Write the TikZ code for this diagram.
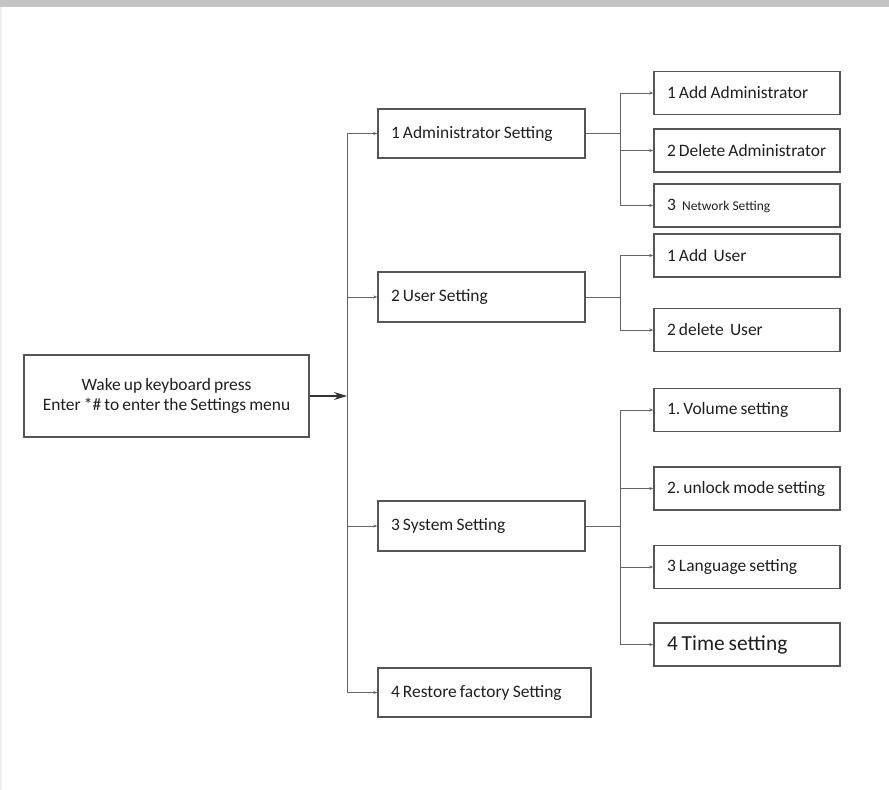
\documentclass[tikz,border=0pt]{standalone}
\usepackage{fontspec}
\setmainfont{Carlito}[WordSpace=0.8]
\usetikzlibrary{arrows.meta}
\definecolor{boxline}{HTML}{555555}
\definecolor{conn}{HTML}{646464}
\definecolor{band}{HTML}{C4C4C4}
\frenchspacing
\newcommand\oneline[1]{\mbox{\spaceskip=\fontdimen2\font\relax\xspaceskip=\fontdimen2\font\relax #1}}
\begin{document}
\begin{tikzpicture}[x=1bp,y=-1bp,
  box/.style={draw=boxline,line width=1.4bp,rectangle,inner sep=0pt,
    font=\fontsize{17.5}{20}\selectfont,text=black!88},
  lonebox/.style={box,minimum width=207bp,minimum height=49bp,text width=181bp,align=left},
  leafbox/.style={box,minimum width=186bp,minimum height=43bp,text width=160bp,align=left},
  link/.style={draw=conn,line width=0.9bp,-{Stealth[length=4bp,width=3bp]}},
  plain/.style={draw=conn,line width=0.9bp}]
\useasboundingbox (0,0) rectangle (889,790);
\fill[band] (0,0) rectangle (889,7);
\fill[black!6] (0,7) rectangle (2,790);
% main
\node[box,minimum width=285bp,minimum height=82bp,align=center] (main) at (166.5,396)
  {Wake up keyboard press\\Enter *\# to enter the Settings menu};
% level 1
\node[lonebox] (admin) at (481.5,133.5) {\oneline{1 Administrator Setting}};
\node[lonebox,minimum height=50bp] (user) at (481.5,297) {\oneline{2 User Setting}};
\node[lonebox,minimum height=50bp] (sys) at (481.5,526) {\oneline{3 System Setting}};
\node[lonebox,minimum width=213bp,text width=187bp] (rest) at (484.5,692.5) {\oneline{4 Restore factory Setting}};
% level 2
\node[leafbox] (addadm) at (747,93) {\oneline{1 Add Administrator}};
\node[leafbox] (deladm) at (747,150.5) {\oneline{2 Delete Administrator}};
\node[leafbox] (net) at (747,205.5) {\oneline{3 \ {\fontsize{13.5}{16}\selectfont Network Setting}}};
\node[leafbox] (adduser) at (747,255.5) {\oneline{1 Add\ \ User}};
\node[leafbox] (deluser) at (747,330) {\oneline{2 delete\ \ User}};
\node[leafbox] (vol) at (747,410) {\oneline{1. Volume setting}};
\node[leafbox] (unl) at (747,488.5) {\oneline{2. unlock mode setting}};
\node[leafbox] (lang) at (747,567) {\oneline{3 Language setting}};
\node[leafbox,font=\fontsize{21.5}{24}\selectfont] (time) at (747,644.5) {\oneline{4 Time setting}};
% trunk
\coordinate (tr) at (347,396);
\draw[draw=black!80,line width=1.2bp,-{Stealth[length=13bp,width=8bp]}] (main.east) -- (tr);
\foreach \n in {admin,user,sys,rest} \draw[link] (tr) |- (\n.west);
% branches
\coordinate (ba) at (620,133.5);
\coordinate (bu) at (620,297);
\coordinate (bs) at (620,526);
\draw[plain] (admin.east) -- (ba);
\draw[plain] (user.east) -- (bu);
\draw[plain] (sys.east) -- (bs);
\foreach \n in {addadm,deladm,net} \draw[link] (ba) |- (\n.west);
\foreach \n in {adduser,deluser} \draw[link] (bu) |- (\n.west);
\foreach \n in {vol,unl,lang,time} \draw[link] (bs) |- (\n.west);
\end{tikzpicture}
\end{document}
